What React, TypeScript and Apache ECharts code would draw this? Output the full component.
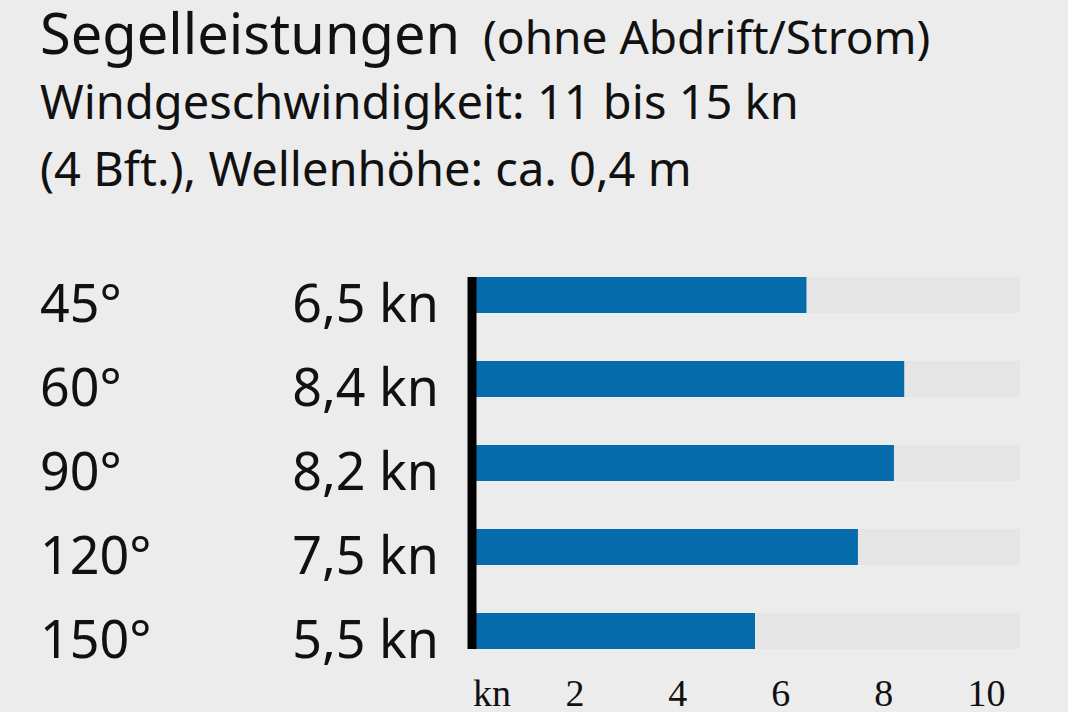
import React, { useEffect, useRef } from 'react';
import * as echarts from 'echarts';

const angles = ['45°', '60°', '90°', '120°', '150°'];
const speeds = [6.5, 8.4, 8.2, 7.5, 5.5];
const unit = 'kn';
const titleMain = 'Segelleistungen';
const titleNote = '(ohne Abdrift/Strom)';
const subtitleLines = ['Windgeschwindigkeit: 11 bis 15 kn', '(4 Bft.), Wellenhöhe: ca. 0,4 m'];
const axisMax = 10.65;
const axisInterval = 2;

const fmt = (v: number) => String(v).replace('.', ',');

export default function App() {
  const ref = useRef<HTMLDivElement>(null);
  useEffect(() => {
    document.body.style.margin = '0';
    document.body.style.background = '#ececec';
    const chart = echarts.init(ref.current!, null, { renderer: 'svg' });
    const sans = '"Noto Sans", sans-serif';
    const serif = '"Liberation Serif", serif';
    const textColor = '#111111';
    chart.setOption({
      animation: false,
      backgroundColor: '#ececec',
      grid: { left: 472, right: 48, top: 253, bottom: 34 },
      xAxis: {
        type: 'value',
        min: 0,
        max: axisMax,
        interval: axisInterval,
        axisLine: { show: false },
        axisTick: { show: false },
        splitLine: { show: false },
        axisLabel: {
          margin: 6,
          showMaxLabel: false,
          fontFamily: serif,
          fontSize: 38,
          lineHeight: 28,
          color: textColor,
          formatter: (v: number) => (v === 0 ? '{u|' + unit + '}' : String(v)),
          rich: {
            u: { fontFamily: serif, fontSize: 38, lineHeight: 28, color: textColor, padding: [0, 0, 0, 40] },
          },
        },
      },
      yAxis: {
        type: 'category',
        data: angles,
        inverse: true,
        axisLine: { show: false },
        axisTick: { show: false },
        axisLabel: {
          margin: 33,
          padding: [12, 0, 0, 0],
          formatter: (v: string, i: number) => `{a|${v}}{b|${fmt(speeds[i])} ${unit}}`,
          rich: {
            a: { width: 230, align: 'left', fontFamily: sans, fontSize: 52, color: textColor },
            b: { width: 169, align: 'right', fontFamily: sans, fontSize: 52, color: textColor },
          },
        },
      },
      series: [
        {
          type: 'bar',
          data: speeds,
          barWidth: 36,
          itemStyle: { color: '#066bab' },
          showBackground: true,
          backgroundStyle: { color: '#e5e5e5' },
        },
      ],
    });
    const x0 = chart.convertToPixel({ xAxisIndex: 0 }, 0) as number;
    const yTop = (chart.convertToPixel({ yAxisIndex: 0 }, angles[0]) as number) - 18;
    const yBot = (chart.convertToPixel({ yAxisIndex: 0 }, angles[angles.length - 1]) as number) + 18;
    chart.setOption({
      graphic: [
        { type: 'rect', shape: { x: x0 - 4.5, y: yTop, width: 9, height: yBot - yTop }, style: { fill: '#000' }, z: 10 },
        { type: 'text', x: 40, y: 32, style: { text: titleMain, fontFamily: sans, fontSize: 56, lineHeight: 50, fill: textColor, verticalAlign: 'middle' } },
        { type: 'text', x: 483, y: 36, style: { text: titleNote, fontFamily: sans, fontSize: 46, lineHeight: 44, fill: textColor, verticalAlign: 'middle' } },
        { type: 'text', x: 40, y: 101, style: { text: subtitleLines[0], fontFamily: sans, fontSize: 47, fill: textColor, verticalAlign: 'middle' } },
        { type: 'text', x: 40, y: 168, style: { text: subtitleLines[1], fontFamily: sans, fontSize: 47, fill: textColor, verticalAlign: 'middle' } },
      ],
    });
    return () => chart.dispose();
  }, []);
  return <div ref={ref} style={{ width: 1068, height: 712 }} />;
}
